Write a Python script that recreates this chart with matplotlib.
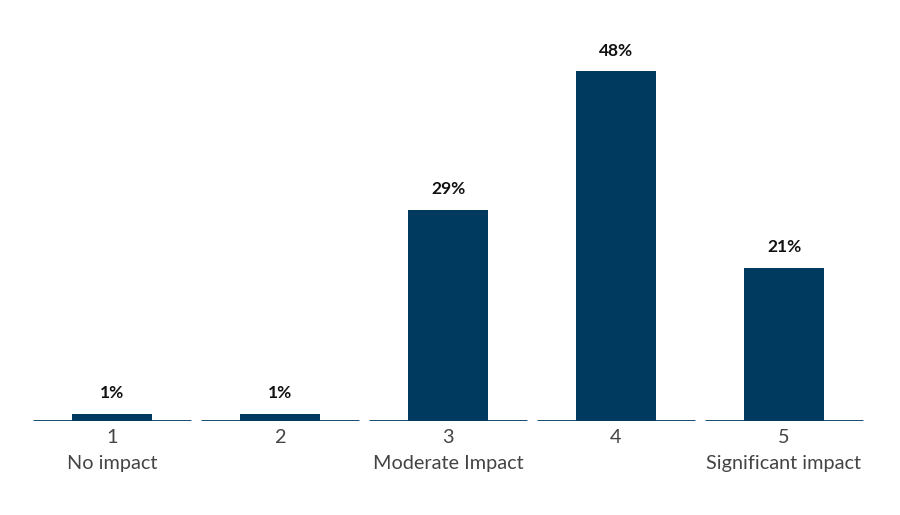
import numpy as np
import matplotlib.pyplot as plt

# ---------------------------------------------------------------------------
# Data
# ---------------------------------------------------------------------------
categories = ["1", "2", "3", "4", "5"]
descriptions = ["No impact", "", "Moderate Impact", "", "Significant impact"]
values = [1, 1, 29, 48, 21]

NAVY = "#003b5f"
plt.rcParams["font.family"] = ["Lato", "DejaVu Sans"]

fig = plt.figure(figsize=(9, 5.15), dpi=100)
ax = fig.add_axes([28 / 900, (515 - 421) / 515, 840 / 900, 401 / 515])

x = np.arange(len(categories))
ax.bar(x, values, width=80 / 168, color=NAVY, zorder=2)
ax.hlines(np.zeros(len(x)), x - 0.47, x + 0.47, color=NAVY, lw=2, zorder=3)

for xi, v in zip(x, values):
    ax.annotate(f"{v}%", (xi, v), xytext=(0, 9), textcoords="offset points",
                ha="center", va="bottom", fontsize=12.5, fontweight="bold",
                color="#111111")

ax.set_xlim(-0.5, len(x) - 0.5)
ax.set_ylim(0, 55)
ax.set_xticks(x)
ax.set_xticklabels([f"{c}\n{d}" for c, d in zip(categories, descriptions)],
                   fontsize=14.3, color="#444444", linespacing=1.6)
ax.tick_params(axis="x", length=0, pad=6)
ax.set_yticks([])
for s in ax.spines.values():
    s.set_visible(False)

fig.savefig("out.png", dpi=100)
